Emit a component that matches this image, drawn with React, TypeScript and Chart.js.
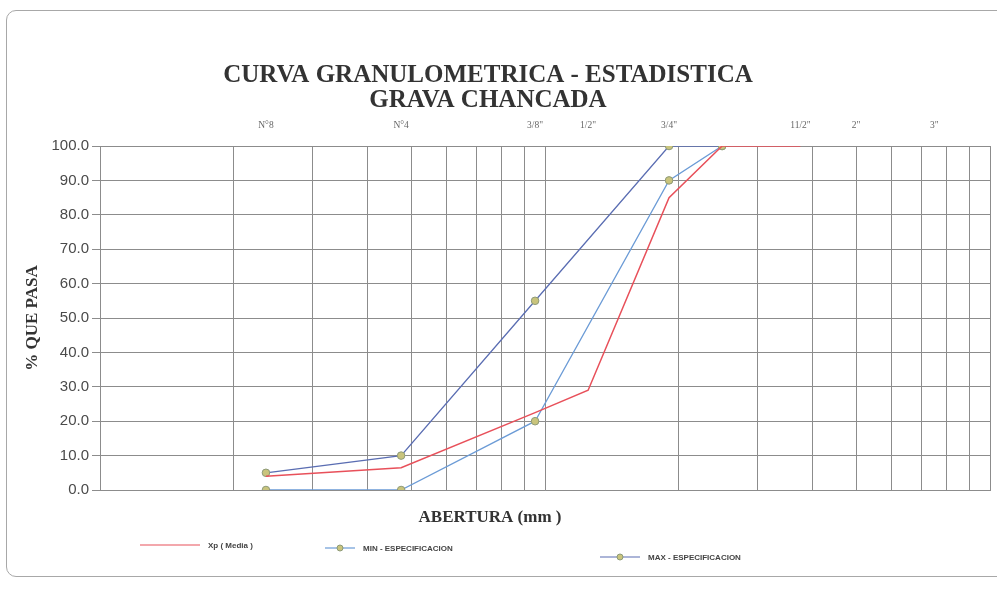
import React, { useEffect, useRef } from "react";
import { Chart, registerables } from "chart.js";

Chart.register(...registerables);

// ---- data ----
const TITLE_LINES = ["CURVA GRANULOMETRICA - ESTADISTICA", "GRAVA CHANCADA"];
const X_TITLE = "ABERTURA (mm )";
const Y_TITLE = "% QUE PASA";

const SIEVE_SIZES = [2.36, 4.75, 9.5, 12.5, 19, 37.5, 50, 75];
const SIEVE_LABELS = ["N°8", "N°4", "3/8\"", "1/2\"", "3/4\"", "11/2\"", "2\"", "3\""];

const XP_SIZES = [2.36, 4.75, 9.5, 12.5, 19, 25, 37.5];
const XP_VALUES = [4, 6.5, 22.5, 29, 85, 100, 100];

const SPEC_SIZES = [2.36, 4.75, 9.5, 19, 25];
const MIN_VALUES = [0, 0, 20, 90, 100];
const MAX_VALUES = [5, 10, 55, 100, 100];

const GRID_MM = [1, 2, 3, 4, 5, 6, 7, 8, 9, 10, 20, 30, 40, 50, 60, 70, 80, 90, 100];

const LEGEND_LABELS = ["Xp ( Media )", "MIN - ESPECIFICACION", "MAX - ESPECIFICACION"];

const RED = "#e8505a";
const MIN_COLOR = "#6b9bd6";
const MAX_COLOR = "#5a6db2";
const MARKER_FILL = "#c9c47c";
const MARKER_BORDER = "#8d9a78";
const GRID = "#8c8c8c";

const pts = (xs: number[], ys: number[]) => xs.map((x, i) => ({ x, y: ys[i] }));

const textPlugin = {
  id: "extraTexts",
  afterDraw(chart: any) {
    const { ctx } = chart;
    ctx.save();
    ctx.fillStyle = "#333";
    ctx.textAlign = "center";
    ctx.textBaseline = "middle";
    ctx.font = 'bold 25px "Liberation Serif"';
    ctx.fillText(TITLE_LINES[0], 488, 76);
    ctx.fillText(TITLE_LINES[1], 488, 101);
    ctx.font = 'bold 17px "Liberation Serif"';
    ctx.fillText(X_TITLE, 490, 518);

    // legend
    const items = [
      { x0: 140, x1: 200, y: 545, marker: false },
      { x0: 325, x1: 355, y: 548, marker: true },
      { x0: 600, x1: 640, y: 557, marker: true },
    ];
    ctx.font = 'bold 8px "Liberation Sans"';
    ctx.textAlign = "left";
    items.forEach((it, i) => {
      const ds = chart.data.datasets[i];
      ctx.strokeStyle = ds.borderColor;
      ctx.lineWidth = 1.2;
      ctx.beginPath();
      ctx.moveTo(it.x0, it.y);
      ctx.lineTo(it.x1, it.y);
      ctx.stroke();
      if (it.marker) {
        ctx.beginPath();
        ctx.arc((it.x0 + it.x1) / 2, it.y, 3, 0, Math.PI * 2);
        ctx.fillStyle = MARKER_FILL;
        ctx.fill();
        ctx.strokeStyle = MARKER_BORDER;
        ctx.lineWidth = 1;
        ctx.stroke();
      }
      ctx.fillStyle = "#444";
      ctx.fillText(LEGEND_LABELS[i], it.x1 + 8, it.y + 1);
    });
    ctx.restore();
  },
};

export default function App() {
  const ref = useRef<HTMLCanvasElement | null>(null);

  useEffect(() => {
    if (!ref.current) return;
    const chart = new Chart(ref.current, {
      type: "line",
      data: {
        datasets: [
          {
            label: LEGEND_LABELS[0],
            data: pts(XP_SIZES, XP_VALUES),
            borderColor: RED,
            backgroundColor: RED,
            borderWidth: 1.5,
            pointRadius: 0,
            tension: 0,
          },
          {
            label: LEGEND_LABELS[1],
            data: pts(SPEC_SIZES, MIN_VALUES),
            borderColor: MIN_COLOR,
            backgroundColor: MARKER_FILL,
            borderWidth: 1.3,
            pointRadius: 3.8,
            pointBackgroundColor: MARKER_FILL,
            pointBorderColor: MARKER_BORDER,
            pointBorderWidth: 1,
            tension: 0,
          },
          {
            label: LEGEND_LABELS[2],
            data: pts(SPEC_SIZES, MAX_VALUES),
            borderColor: MAX_COLOR,
            backgroundColor: MARKER_FILL,
            borderWidth: 1.3,
            pointRadius: 3.8,
            pointBackgroundColor: MARKER_FILL,
            pointBorderColor: MARKER_BORDER,
            pointBorderWidth: 1,
            tension: 0,
          },
        ],
      },
      options: {
        animation: false,
        responsive: false,
        maintainAspectRatio: false,
        layout: { padding: { left: 10, right: 7, top: 110, bottom: 61 } },
        plugins: {
          legend: { display: false },
          title: { display: false },
          tooltip: { enabled: false },
        },
        scales: {
          x: {
            type: "logarithmic",
            position: "bottom",
            min: 1,
            max: 100,
            afterBuildTicks: (s: any) => {
              s.ticks = GRID_MM.map((v) => ({ value: v }));
            },
            afterFit: (s: any) => {
              s.height = 40;
            },
            ticks: { display: false },
            grid: { color: GRID, lineWidth: 1, drawTicks: false },
            border: { color: GRID },
          },
          x2: {
            type: "logarithmic",
            position: "top",
            min: 1,
            max: 100,
            afterBuildTicks: (s: any) => {
              s.ticks = SIEVE_SIZES.map((v) => ({ value: v }));
            },
            afterFit: (s: any) => {
              s.height = 36;
            },
            ticks: {
              autoSkip: false,
              maxRotation: 0,
              padding: 15,
              color: "#666",
              font: { family: "Liberation Serif", size: 9.5 },
              callback: (_v: any, i: number) => SIEVE_LABELS[i],
            },
            grid: { display: false, drawTicks: false },
            border: { display: false },
          },
          y: {
            min: 0,
            max: 100,
            afterFit: (s: any) => {
              s.width = 90;
            },
            ticks: {
              stepSize: 10,
              padding: 3,
              color: "#4a4a4a",
              font: { family: "Liberation Sans", size: 15 },
              callback: (v: any) => Number(v).toFixed(1),
            },
            grid: { color: GRID, lineWidth: 1, tickLength: 8 },
            border: { color: GRID },
            title: {
              display: true,
              text: Y_TITLE,
              color: "#333",
              font: { family: "Liberation Serif", size: 17, weight: "bold" },
              padding: { top: 12, bottom: 0 },
            },
          },
        },
      },
      plugins: [textPlugin],
    });
    return () => chart.destroy();
  }, []);

  return (
    <div
      style={{
        position: "absolute",
        left: 0,
        top: 0,
        width: 997,
        height: 591,
        overflow: "hidden",
        background: "#fff",
      }}
    >
      <div
        style={{
          position: "absolute",
          left: 6,
          top: 10,
          width: 1010,
          height: 565,
          border: "1px solid #a8a8a8",
          borderRadius: 10,
        }}
      />
      <canvas
        ref={ref}
        width={997}
        height={591}
        style={{ position: "absolute", left: 0, top: 0, width: 997, height: 591 }}
      />
    </div>
  );
}
